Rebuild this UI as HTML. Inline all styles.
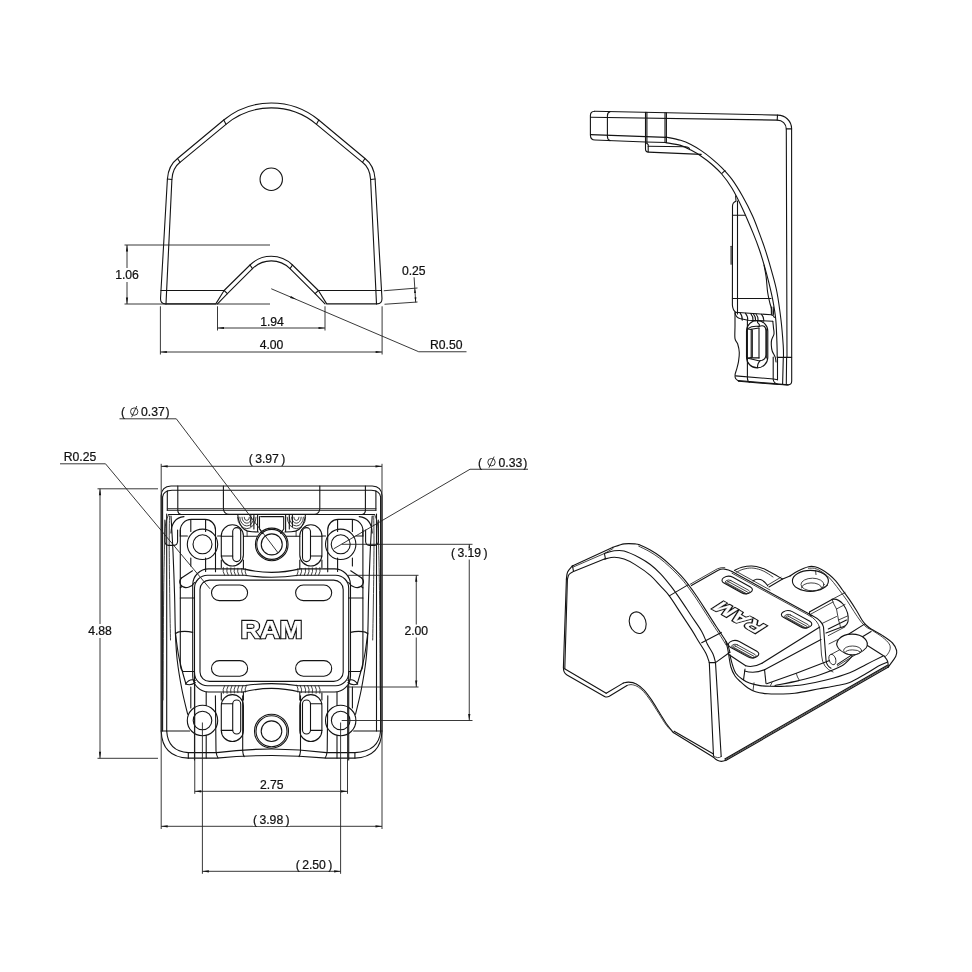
<!DOCTYPE html>
<html><head><meta charset="utf-8"><title>drawing</title>
<style>
html,body{margin:0;padding:0;background:#fff}
svg{display:block;will-change:transform}
.p{fill:none;stroke:#141414;stroke-width:1.1;stroke-linecap:round;stroke-linejoin:round}
.q{fill:none;stroke:#222;stroke-width:.85;stroke-linecap:round;stroke-linejoin:round}
.w{fill:#fff;stroke:#141414;stroke-width:1.1;stroke-linejoin:round}
.d{fill:none;stroke:#222;stroke-width:.9}
.a{fill:#111;stroke:none}
text{font-family:"Liberation Sans",sans-serif;fill:#111;stroke:#111;stroke-width:.22}
</style></head><body>
<svg width="972" height="972" viewBox="0 0 972 972">
<rect width="972" height="972" fill="#fff"/>
<g id="v1">
<path class="p" d="M165.5 303.9Q160.2 303.9 160.55 298L167.4 179Q168.3 165.5 177.5 158.5L223.75 120A74.9 74.9 0 0 1 318.75 120L365 158.5Q374.2 165.5 375.1 179L381.95 298Q382.3 303.9 377 303.9L326.7 303.9L318.4 290.5L292.5 265A30.2 30.2 0 0 0 250 265L224.1 290.5L215.8 303.9Z"/>
<path class="p" d="M166 303.9L171.9 179.5Q172.6 168 180 162.3L226 124.3A70.6 70.6 0 0 1 316.5 124.3L362.5 162.3Q369.9 168 370.6 179.5L376.5 303.9"/>
<path class="p" d="M325 303.9L315.1 293.6L290 268.6A26.5 26.5 0 0 0 252.5 268.6L227.4 293.6L217.5 303.9"/>
<line class="p" x1="160.9" y1="290.5" x2="224.1" y2="290.5"/>
<line class="p" x1="318.4" y1="290.5" x2="381.6" y2="290.5"/>
<line class="p" x1="224.1" y1="290.5" x2="227.4" y2="293.6"/>
<line class="p" x1="318.4" y1="290.5" x2="315.1" y2="293.6"/>
<line class="p" x1="250" y1="265" x2="252.5" y2="268.6"/>
<line class="p" x1="292.5" y1="265" x2="290" y2="268.6"/>
<line class="p" x1="223.75" y1="120" x2="226" y2="124.3"/>
<line class="p" x1="318.75" y1="120" x2="316.5" y2="124.3"/>
<line class="p" x1="177.5" y1="158.5" x2="180" y2="162.3"/>
<line class="p" x1="365" y1="158.5" x2="362.5" y2="162.3"/>
<line class="p" x1="167.4" y1="179" x2="171.9" y2="179.5"/>
<line class="p" x1="375.1" y1="179" x2="370.6" y2="179.5"/>
<circle class="p" cx="271.25" cy="179.25" r="11.2"/>
</g>
<line class="d" x1="124.5" y1="245" x2="270" y2="245"/>
<line class="d" x1="124.5" y1="304" x2="270" y2="304"/>
<line class="d" x1="127" y1="245" x2="127" y2="304"/>
<polygon class="a" points="127.00,245.00 128.10,251.50 125.90,251.50"/>
<polygon class="a" points="127.00,304.00 125.90,297.50 128.10,297.50"/>
<rect x="114" y="268" width="27" height="14" fill="#fff"/>
<text x="127" y="279.3" text-anchor="middle" font-size="12.2">1.06</text>
<line class="d" x1="160.4" y1="306.3" x2="160.4" y2="354.5"/>
<line class="d" x1="382.1" y1="306.3" x2="382.1" y2="354.5"/>
<line class="d" x1="160.4" y1="352" x2="382.1" y2="352"/>
<polygon class="a" points="160.40,352.00 166.90,350.90 166.90,353.10"/>
<polygon class="a" points="382.10,352.00 375.60,353.10 375.60,350.90"/>
<text x="271.5" y="349.3" text-anchor="middle" font-size="12.2">4.00</text>
<line class="d" x1="217.5" y1="306.3" x2="217.5" y2="330.5"/>
<line class="d" x1="325" y1="306.3" x2="325" y2="330.5"/>
<line class="d" x1="217.5" y1="328" x2="325" y2="328"/>
<polygon class="a" points="217.50,328.00 224.00,326.90 224.00,329.10"/>
<polygon class="a" points="325.00,328.00 318.50,329.10 318.50,326.90"/>
<text x="272" y="325.8" text-anchor="middle" font-size="12.2">1.94</text>
<line class="d" x1="271.25" y1="288.75" x2="418.75" y2="351.75"/>
<line class="d" x1="418.75" y1="351.75" x2="466.5" y2="351.75"/>
<polygon class="a" points="296.00,299.30 290.05,297.95 290.91,295.93"/>
<text x="446.3" y="349.3" text-anchor="middle" font-size="12.2">R0.50</text>
<line class="d" x1="383.75" y1="290.75" x2="417.5" y2="288"/>
<line class="d" x1="384.5" y1="304.25" x2="417.5" y2="302"/>
<line class="d" x1="414.1" y1="277.3" x2="415.7" y2="302.4"/>
<polygon class="a" points="414.80,288.20 416.00,292.94 414.10,293.04"/>
<polygon class="a" points="415.70,302.20 414.50,297.46 416.40,297.36"/>
<text x="413.75" y="275.2" text-anchor="middle" font-size="12.2">0.25</text>
<g id="v2">
<path class="p" d="M594.6 111.3L777.8 115.1A13.8 13.8 0 0 1 791.6 128.5L791.7 381Q791.7 385 788 384.9L774 383.6L738.5 380.6"/>
<path class="p" d="M594.6 111.3Q590.4 111.5 590.4 115.6L590.4 135.2Q590.5 139.8 595 140L645.5 142L666.4 142.5"/>
<path class="p" d="M590.6 117.3L777.2 120.1A9 9 0 0 1 786.3 129.2L787 357.4"/>
<line class="p" x1="777.5" y1="115.1" x2="777.2" y2="120.1"/>
<line class="p" x1="786.3" y1="128.9" x2="791.6" y2="128.9"/>
<path class="p" d="M590.6 134.6L666.4 137.4"/>
<path class="p" d="M610 111.6Q607.4 112.4 607.4 116L607.4 136.5Q607.5 140 610 140.6"/>
<line class="p" x1="645.5" y1="112.4" x2="645.5" y2="142"/>
<line class="p" x1="646.9" y1="112.4" x2="646.9" y2="143.5"/>
<line class="p" x1="665" y1="112.8" x2="665" y2="142.5"/>
<line class="p" x1="666.4" y1="112.8" x2="666.4" y2="142.5"/>
<path class="p" d="M645.5 142L645.5 149.5Q645.6 152 648.4 152.1L701.2 154.4"/>
<path class="p" d="M646.9 143.5L648.2 144.6L648.2 151.8"/>
<path class="p" d="M648.2 146.2L685.7 146.7Q688 146.9 689.5 148.3"/>
<path class="p" d="M665.70 137.00C668.18 137.55 676.40 139.07 680.60 140.30C684.80 141.53 687.47 142.68 690.90 144.40C694.33 146.12 697.78 148.28 701.20 150.60C704.62 152.92 707.98 155.47 711.40 158.30C714.82 161.13 718.27 164.08 721.70 167.60C725.13 171.12 728.57 174.70 732.00 179.40C735.43 184.10 738.87 189.72 742.30 195.80C745.73 201.88 749.75 209.63 752.60 215.90C755.45 222.17 757.23 227.57 759.40 233.40C761.57 239.23 763.55 244.57 765.60 250.90C767.65 257.23 769.82 264.55 771.70 271.40C773.58 278.25 775.35 283.90 776.90 292.00C778.45 300.10 779.95 311.17 781.00 320.00C782.05 328.83 782.78 338.77 783.20 345.00C783.62 351.23 783.45 355.33 783.50 357.40"/>
<path class="p" d="M665.70 142.60C668.18 143.07 676.40 144.15 680.60 145.40C684.80 146.65 687.47 148.30 690.90 150.10C694.33 151.90 697.78 153.88 701.20 156.20C704.62 158.52 707.98 161.03 711.40 164.00C714.82 166.97 718.27 169.97 721.70 174.00C725.13 178.03 728.57 182.50 732.00 188.20C735.43 193.90 738.77 200.67 742.30 208.20C745.83 215.73 750.35 226.47 753.20 233.40C756.05 240.33 757.52 244.32 759.40 249.80C761.28 255.28 762.97 260.98 764.50 266.30C766.03 271.62 767.22 276.05 768.60 281.70C769.98 287.35 771.60 293.82 772.80 300.20C774.00 306.58 775.10 312.53 775.80 320.00C776.50 327.47 776.77 338.77 777.00 345.00C777.23 351.23 777.17 355.33 777.20 357.40"/>
<line class="p" x1="725" y1="170.6" x2="721.9" y2="173.4"/>
<path class="p" d="M764.00 265.00C764.35 266.93 765.50 272.10 766.10 276.60C766.70 281.10 767.00 287.72 767.60 292.00C768.20 296.28 769.02 299.38 769.70 302.30C770.38 305.22 771.32 307.38 771.70 309.50C772.08 311.62 771.95 314.08 772.00 315.00"/>
<path class="p" d="M735.6 195.8L736 201.3Q732.6 202.5 732.5 206L732.4 305Q732.6 310 736 312.6"/>
<line class="p" x1="737.5" y1="201" x2="737.5" y2="314"/>
<line class="p" x1="732.5" y1="215.3" x2="745.6" y2="215.3"/>
<line class="p" x1="731.1" y1="246.2" x2="731.1" y2="264.2"/>
<line class="p" x1="732.4" y1="298.5" x2="771" y2="298.5"/>
<line class="p" x1="783.3" y1="357.4" x2="782.6" y2="384.3"/>
<line class="p" x1="777.5" y1="357.4" x2="777.5" y2="379.8"/>
<line class="p" x1="777.5" y1="357.4" x2="791.6" y2="357.4"/>
<line class="p" x1="786.6" y1="357.4" x2="786.3" y2="384.6"/>
<path class="p" d="M735 312.3L771.3 314.7Q773.6 315.2 774.4 317.5"/>
<path class="p" d="M735 312.8Q736 317.5 739.7 318.5L748.1 320.2L772.8 321.2"/>
<path class="p" d="M740 312.93q2.6 3 2.2 7.20"/>
<path class="p" d="M745.5 313.29q2.6 3 2.2 7.09"/>
<path class="p" d="M750.8 313.64q2.6 3 2.2 6.98"/>
<path class="p" d="M753.4 313.81q2.6 3 2.2 6.93"/>
<path class="p" d="M756 313.99q2.6 3 2.2 6.88"/>
<path class="p" d="M761.5 314.35q2.6 3 2.2 6.77"/>
<path class="p" d="M771.3 307L771.4 314.2"/>
<path class="p" d="M773.2 307L773.6 314.4"/>
<path class="p" d="M735.00 313.10C735.00 315.25 735.00 321.75 735.00 326.00C735.00 330.25 734.55 335.60 735.00 338.60C735.45 341.60 736.98 341.68 737.70 344.00C738.42 346.32 739.17 349.55 739.30 352.50C739.43 355.45 738.95 358.88 738.50 361.70C738.05 364.52 737.17 367.28 736.60 369.40C736.03 371.52 735.27 372.88 735.10 374.40C734.93 375.92 734.97 377.35 735.60 378.50C736.23 379.65 738.35 380.83 738.90 381.30"/>
<path class="p" d="M738.9 381.3L775.2 384.3L788 384.9"/>
<path class="p" d="M735.6 375.9L773.6 379L777.5 379.8"/>
<path class="p" d="M747.4 320.2L747.4 378.2Q747.6 381.5 749.7 382.3"/>
<path class="p" d="M772.80 321.20C772.92 322.33 773.30 325.87 773.50 328.00C773.70 330.13 774.32 332.00 774.00 334.00C773.68 336.00 772.05 338.17 771.60 340.00C771.15 341.83 771.20 343.17 771.30 345.00C771.40 346.83 771.55 348.98 772.20 351.00C772.85 353.02 774.57 355.27 775.20 357.10C775.83 358.93 775.87 361.18 776.00 362.00"/>
<path class="p" d="M773.2 357L773.2 379.5Q773.8 383 777.5 384.2"/>
<path class="p" d="M746.5 331.04999999999995A10.649999999999977 10.649999999999977 0 0 1 767.8 331.04999999999995V357.25A10.649999999999977 10.649999999999977 0 0 1 746.5 357.25Z"/>
<path class="p" d="M747.6 329L751.2 329.5M747.6 358L751.2 357.6"/>
<line class="p" x1="766.7" y1="329" x2="766.7" y2="358"/>
<line class="p" x1="751.2" y1="329.2" x2="751.2" y2="357.9"/>
<line class="p" x1="752.3" y1="329.8" x2="752.3" y2="357.3"/>
<line class="p" x1="759" y1="328" x2="759" y2="357.9"/>
<path class="p" d="M751.2 329.2L759 328M751.2 357.9L759 357.9"/>
<path class="p" d="M747.8 328.6Q752 325.6 759 326.4Q762.5 325 764.5 326.5Q766 328 765.9 331L765.9 355Q765.8 359 762 360.3Q760.6 360.6 759.7 361"/>
<path class="p" d="M747.8 358.2Q753 359.2 759.7 361"/>
<path class="p" d="M757.40 320.20C757.43 320.58 757.27 321.73 757.60 322.50C757.93 323.27 759.17 324.15 759.40 324.80C759.63 325.45 759.07 326.13 759.00 326.40"/>
<path class="p" d="M759.70 361.00C759.42 361.50 758.38 362.90 758.00 364.00C757.62 365.10 757.50 367.00 757.40 367.60"/>
</g>
<g id="v3">
<path class="p" d="M171 486H372.2Q381.6 486.4 382 495.5V731Q381 757 355 758.1L326.5 758.1Q272 753 216.7 758.1L188.2 758.1Q162 757 161.2 731V495.5Q161.6 486.4 171 486Z"/>
<path class="p" d="M172 490.3H371.2Q379.8 490.6 380.6 497V731Q379 751.5 355 752.6L326.5 752.6Q272 745.5 216.7 752.6L188.3 752.6Q168 751.5 166.7 731M162.6 497Q163.4 490.6 172 490.3"/>
<line class="p" x1="162.6" y1="497" x2="162.6" y2="731"/>
<path class="p" d="M166.7 514V731"/>
<path class="p" d="M376.5 514V731"/>
<path class="p" d="M161.2 731H189.6"/>
<path class="p" d="M382.0 731H353.6"/>
<path class="p" d="M188.3 752.6V758.1"/>
<path class="p" d="M354.9 752.6V758.1"/>
<path class="p" d="M206.2 752.6V758.1"/>
<path class="p" d="M337.0 752.6V758.1"/>
<path class="p" d="M215.4 695.8L216 751Q216.5 756 218 758"/>
<path class="p" d="M327.8 695.8L327.2 751Q326.7 756 325.2 758"/>
<path class="p" d="M242.7 695.8V751Q243 755 244.2 756.6"/>
<path class="p" d="M300.5 695.8V751Q300.2 755 299.0 756.6"/>
<line class="p" x1="167.3" y1="510.3" x2="375.9" y2="510.3"/>
<line class="p" x1="168.6" y1="514.5" x2="374.6" y2="514.5"/>
<path class="p" d="M167.3 490.8V510.3"/>
<path class="p" d="M375.9 490.8V510.3"/>
<path class="p" d="M177.8 486V511Q178.2 514 181 514.5"/>
<path class="p" d="M365.4 486V511Q365.0 514 362.2 514.5"/>
<path class="p" d="M223.4 486V508.5Q223.6 514 229 514.4H314.2Q319.6 514 319.8 508.5V486"/>
<line class="q" x1="167.3" y1="508.6" x2="375.9" y2="508.6"/>
<line class="p" x1="260.7" y1="516.6" x2="283" y2="516.6"/>
<circle class="p" cx="202.5" cy="544.3" r="15.2"/>
<circle class="p" cx="202.5" cy="544.3" r="9.5"/>
<circle class="p" cx="202.5" cy="720.5" r="15.2"/>
<circle class="p" cx="202.5" cy="720.5" r="9.3"/>
<circle class="p" cx="340.7" cy="544.3" r="15.2"/>
<circle class="p" cx="340.7" cy="544.3" r="9.5"/>
<circle class="p" cx="340.7" cy="720.5" r="15.2"/>
<circle class="p" cx="340.7" cy="720.5" r="9.3"/>
<circle class="p" cx="271.75" cy="544.4" r="16.3"/>
<circle class="p" cx="271.75" cy="544.4" r="15"/>
<circle class="p" cx="271.75" cy="544.4" r="10.5"/>
<circle class="p" cx="271.5" cy="731.2" r="17"/>
<circle class="p" cx="271.5" cy="731.2" r="15.5"/>
<circle class="p" cx="271.5" cy="731.2" r="10.3"/>
<rect class="p" x="200" y="580.1" width="143.2" height="101.29999999999995" rx="9.5"/>
<path class="p" d="M207.5 575.2H244.6Q258 577.3 271.6 577.3T298.6 575.2H335.7A13 13 0 0 1 348.7 588.2V672.7A13 13 0 0 1 335.7 685.7H298.6Q285 683.6 271.6 683.6T244.6 685.7H207.5A13 13 0 0 1 194.5 672.7V588.2A13 13 0 0 1 207.5 575.2Z"/>
<path class="p" d="M209 568.9H243.4Q258 572.4 271.6 572.4T299.8 568.9H334.2A16 16 0 0 1 350.5 585V676A16 16 0 0 1 334.2 692L299.8 692Q285 688.4 271.6 688.4T243.4 692L209 692A16 16 0 0 1 192.7 676V585A16 16 0 0 1 209 568.9Z"/>
<path class="p" d="M219.3 585H239.79999999999998A7.800000000000011 7.800000000000011 0 0 1 239.79999999999998 600.6H219.3A7.800000000000011 7.800000000000011 0 0 1 219.3 585Z"/>
<path class="p" d="M303.40000000000003 585H323.9A7.800000000000011 7.800000000000011 0 0 1 323.9 600.6H303.40000000000003A7.800000000000011 7.800000000000011 0 0 1 303.40000000000003 585Z"/>
<path class="p" d="M219.3 660.6H239.79999999999998A7.800000000000011 7.800000000000011 0 0 1 239.79999999999998 676.2H219.3A7.800000000000011 7.800000000000011 0 0 1 219.3 660.6Z"/>
<path class="p" d="M303.40000000000003 660.6H323.9A7.800000000000011 7.800000000000011 0 0 1 323.9 676.2H303.40000000000003A7.800000000000011 7.800000000000011 0 0 1 303.40000000000003 660.6Z"/>
<path class="p" d="M221.3 535.8499999999999A11.049999999999997 11.049999999999997 0 0 1 243.4 535.8499999999999V554.95A11.049999999999997 11.049999999999997 0 0 1 221.3 554.95Z"/>
<path class="p" d="M232.7 531.6A4.0 4.0 0 0 1 240.7 531.6V557.6A4.0 4.0 0 0 1 232.7 557.6Z"/>
<path class="p" d="M221.3 705.65A11.049999999999997 11.049999999999997 0 0 1 243.4 705.65V730.45A11.049999999999997 11.049999999999997 0 0 1 221.3 730.45Z"/>
<path class="p" d="M232.7 704.0A4.0 4.0 0 0 1 240.7 704.0V730.0A4.0 4.0 0 0 1 232.7 730.0Z"/>
<path class="p" d="M221.3 536.3H232.7M221.3 556H232.7"/>
<path class="p" d="M221.3 703.8H232.7M221.3 730.4H232.7"/>
<path class="p" d="M299.80000000000007 535.8499999999999A11.049999999999983 11.049999999999983 0 0 1 321.90000000000003 535.8499999999999V554.95A11.049999999999983 11.049999999999983 0 0 1 299.80000000000007 554.95Z"/>
<path class="p" d="M302.50000000000006 531.6A4.0 4.0 0 0 1 310.50000000000006 531.6V557.6A4.0 4.0 0 0 1 302.50000000000006 557.6Z"/>
<path class="p" d="M299.80000000000007 705.65A11.049999999999983 11.049999999999983 0 0 1 321.90000000000003 705.65V730.45A11.049999999999983 11.049999999999983 0 0 1 299.80000000000007 730.45Z"/>
<path class="p" d="M302.50000000000006 704.0A4.0 4.0 0 0 1 310.50000000000006 704.0V730.0A4.0 4.0 0 0 1 302.50000000000006 730.0Z"/>
<path class="p" d="M321.90000000000003 536.3H310.50000000000006M321.90000000000003 556H310.50000000000006"/>
<path class="p" d="M321.90000000000003 703.8H310.50000000000006M321.90000000000003 730.4H310.50000000000006"/>
<g font-size="23.1" font-weight="bold" text-anchor="middle"><text x="271.5" y="637.9" textLength="61.6" lengthAdjust="spacingAndGlyphs" style="fill:#111;stroke:#111;stroke-width:2.3;stroke-linejoin:miter">RAM</text><text x="271.5" y="637.9" textLength="61.6" lengthAdjust="spacingAndGlyphs" style="fill:#fff;stroke:#fff;stroke-width:.25">RAM</text></g>
<path class="p" d="M171.00 516.00C171.33 522.00 172.40 538.67 173.00 552.00C173.60 565.33 174.20 582.50 174.60 596.00C175.00 609.50 174.97 622.33 175.40 633.00C175.83 643.67 176.10 650.50 177.20 660.00C178.30 669.50 180.25 680.95 182.00 690.00C183.75 699.05 186.75 710.25 187.70 714.30"/>
<path class="p" d="M175.40 633.00C175.92 636.67 177.32 648.50 178.50 655.00C179.68 661.50 181.25 667.17 182.50 672.00C183.75 676.83 185.42 682.00 186.00 684.00"/>
<path class="q" d="M168.60 514.50C168.08 516.25 166.17 519.92 165.50 525.00C164.83 530.08 164.92 532.50 164.60 545.00C164.28 557.50 163.87 574.17 163.60 600.00C163.33 625.83 163.10 683.33 163.00 700.00"/>
<path class="q" d="M169.50 516.00C169.45 520.83 169.15 531.00 169.20 545.00C169.25 559.00 169.58 584.17 169.80 600.00C170.02 615.83 170.38 633.33 170.50 640.00"/>
<path class="p" d="M180.3 530V665Q180.6 669.5 182.8 671.5H194.5"/>
<path class="p" d="M180.3 598H194.5"/>
<path class="p" d="M175.6 633.5Q178 631.6 180.3 631.6Q187 630.8 192.7 632.4"/>
<path class="p" d="M164.9 520V541.5Q165.2 545.2 168.5 545.4H174Q177.3 545.2 177.6 541.5V530"/>
<path class="p" d="M180.3 536V531A11 11 0 0 1 191.3 519.4H205A10.5 10.5 0 0 1 215.5 530V571.8"/>
<path class="p" d="M190.8 519.6V531.5M205.6 519.6V531.5M205.6 558V571.5M190.8 558V566"/>
<path class="p" d="M180.3 536H187.4M217.6 536H221.3"/>
<path class="p" d="M171 533Q171.5 518 184 516.6"/>
<path class="p" d="M181.5 578Q178.5 581 180.5 584.5Q183.5 589 189 587Q193 585.5 194.5 582.5"/>
<path class="p" d="M181.5 578L192.5 570.8M182 586.5L180.3 587.8"/>
<path class="p" d="M185.5 684Q190 678 195.2 680.5M185.5 684Q191 686 195.3 682.5"/>
<path class="p" d="M190.8 687V708M194.5 672V760M206.2 692V705.5M206.2 735.5V752.6"/>
<path class="q" d="M224.5 575.2Q222.3 571.5 223.3 567.6"/>
<path class="q" d="M224.5 685.7Q222.3 689.4 223.3 693.3"/>
<path class="q" d="M228.2 575.2Q226.0 571.5 227.0 567.6"/>
<path class="q" d="M228.2 685.7Q226.0 689.4 227.0 693.3"/>
<path class="q" d="M232 575.3000000000001Q229.8 571.5 230.8 567.8000000000001"/>
<path class="q" d="M232 685.6Q229.8 689.4 230.8 693.0999999999999"/>
<path class="q" d="M235.5 575.4000000000001Q233.3 571.5 234.3 568.0"/>
<path class="q" d="M235.5 685.5Q233.3 689.4 234.3 692.9"/>
<path class="q" d="M239 575.5Q236.8 571.5 237.8 568.2"/>
<path class="q" d="M239 685.4000000000001Q236.8 689.4 237.8 692.6999999999999"/>
<path class="q" d="M243 575.6Q240.8 571.5 241.8 568.4"/>
<path class="q" d="M243 685.3000000000001Q240.8 689.4 241.8 692.5"/>
<path class="q" d="M246.5 575.8000000000001Q244.3 571.5 245.3 568.8000000000001"/>
<path class="q" d="M246.5 685.1Q244.3 689.4 245.3 692.0999999999999"/>
<path class="p" d="M221.3 560V567.5M243.4 560V569M221.3 700V693M243.4 700V692"/>
<path class="p" d="M372.20 516.00C371.87 522.00 370.80 538.67 370.20 552.00C369.60 565.33 369.00 582.50 368.60 596.00C368.20 609.50 368.23 622.33 367.80 633.00C367.37 643.67 367.10 650.50 366.00 660.00C364.90 669.50 362.95 680.95 361.20 690.00C359.45 699.05 356.45 710.25 355.50 714.30"/>
<path class="p" d="M367.80 633.00C367.28 636.67 365.88 648.50 364.70 655.00C363.52 661.50 361.95 667.17 360.70 672.00C359.45 676.83 357.78 682.00 357.20 684.00"/>
<path class="q" d="M374.60 514.50C375.12 516.25 377.03 519.92 377.70 525.00C378.37 530.08 378.28 532.50 378.60 545.00C378.92 557.50 379.33 574.17 379.60 600.00C379.87 625.83 380.10 683.33 380.20 700.00"/>
<path class="q" d="M373.70 516.00C373.75 520.83 374.05 531.00 374.00 545.00C373.95 559.00 373.62 584.17 373.40 600.00C373.18 615.83 372.82 633.33 372.70 640.00"/>
<path class="p" d="M362.90000000000003 530V665Q362.6 669.5 360.40000000000003 671.5H348.70000000000005"/>
<path class="p" d="M362.90000000000003 598H348.70000000000005"/>
<path class="p" d="M367.6 633.5Q365.20000000000005 631.6 362.90000000000003 631.6Q356.20000000000005 630.8 350.50000000000006 632.4"/>
<path class="p" d="M378.30000000000007 520V541.5Q378.00000000000006 545.2 374.70000000000005 545.4H369.20000000000005Q365.90000000000003 545.2 365.6 541.5V530"/>
<path class="p" d="M362.90000000000003 536V531A11 11 0 0 0 351.90000000000003 519.4H338.20000000000005A10.5 10.5 0 0 0 327.70000000000005 530V571.8"/>
<path class="p" d="M352.40000000000003 519.6V531.5M337.6 519.6V531.5M337.6 558V571.5M352.40000000000003 558V566"/>
<path class="p" d="M362.90000000000003 536H355.80000000000007M325.6 536H321.90000000000003"/>
<path class="p" d="M372.20000000000005 533Q371.70000000000005 518 359.20000000000005 516.6"/>
<path class="p" d="M361.70000000000005 578Q364.70000000000005 581 362.70000000000005 584.5Q359.70000000000005 589 354.20000000000005 587Q350.20000000000005 585.5 348.70000000000005 582.5"/>
<path class="p" d="M361.70000000000005 578L350.70000000000005 570.8M361.20000000000005 586.5L362.90000000000003 587.8"/>
<path class="p" d="M357.70000000000005 684Q353.20000000000005 678 348.00000000000006 680.5M357.70000000000005 684Q352.20000000000005 686 347.90000000000003 682.5"/>
<path class="p" d="M352.40000000000003 687V708M348.70000000000005 672V760M337.00000000000006 692V705.5M337.00000000000006 735.5V752.6"/>
<path class="q" d="M318.70000000000005 575.2Q320.90000000000003 571.5 319.90000000000003 567.6"/>
<path class="q" d="M318.70000000000005 685.7Q320.90000000000003 689.4 319.90000000000003 693.3"/>
<path class="q" d="M315.00000000000006 575.2Q317.20000000000005 571.5 316.20000000000005 567.6"/>
<path class="q" d="M315.00000000000006 685.7Q317.20000000000005 689.4 316.20000000000005 693.3"/>
<path class="q" d="M311.20000000000005 575.3000000000001Q313.40000000000003 571.5 312.40000000000003 567.8000000000001"/>
<path class="q" d="M311.20000000000005 685.6Q313.40000000000003 689.4 312.40000000000003 693.0999999999999"/>
<path class="q" d="M307.70000000000005 575.4000000000001Q309.90000000000003 571.5 308.90000000000003 568.0"/>
<path class="q" d="M307.70000000000005 685.5Q309.90000000000003 689.4 308.90000000000003 692.9"/>
<path class="q" d="M304.20000000000005 575.5Q306.40000000000003 571.5 305.40000000000003 568.2"/>
<path class="q" d="M304.20000000000005 685.4000000000001Q306.40000000000003 689.4 305.40000000000003 692.6999999999999"/>
<path class="q" d="M300.20000000000005 575.6Q302.40000000000003 571.5 301.40000000000003 568.4"/>
<path class="q" d="M300.20000000000005 685.3000000000001Q302.40000000000003 689.4 301.40000000000003 692.5"/>
<path class="q" d="M296.70000000000005 575.8000000000001Q298.90000000000003 571.5 297.90000000000003 568.8000000000001"/>
<path class="q" d="M296.70000000000005 685.1Q298.90000000000003 689.4 297.90000000000003 692.0999999999999"/>
<path class="p" d="M321.90000000000003 560V567.5M299.80000000000007 560V569M321.90000000000003 700V693M299.80000000000007 700V692"/>
<path class="q" d="M244.20000000000002 517.2A2.6 3.25 0 0 0 249.4 517.2"/>
<path class="q" d="M242.0 517.2A4.8 6.00 0 0 0 251.60000000000002 517.2"/>
<path class="q" d="M239.8 517.2A7 8.75 0 0 0 253.8 517.2"/>
<path class="q" d="M237.60000000000002 517.2A9.2 11.50 0 0 0 256.0 517.2"/>
<path class="p" d="M237.8 515Q238.5 524 244 529.2Q247 531.6 252 531.8L258.4 532"/>
<path class="p" d="M250.8 515V526.5M253.9 515V529M257.6 515V531.5M259.5 516.6V529L262.5 533.5"/>
<path class="q" d="M241.5 527L243.4 528.5M247.1 531.4L247.1 536.3"/>
<path class="p" d="M243.4 536.3H257"/>
<path class="q" d="M299.0 517.2A2.6 3.25 0 0 1 293.80000000000007 517.2"/>
<path class="q" d="M301.20000000000005 517.2A4.8 6.00 0 0 1 291.6 517.2"/>
<path class="q" d="M303.40000000000003 517.2A7 8.75 0 0 1 289.40000000000003 517.2"/>
<path class="q" d="M305.6 517.2A9.2 11.50 0 0 1 287.20000000000005 517.2"/>
<path class="p" d="M305.40000000000003 515Q304.70000000000005 524 299.20000000000005 529.2Q296.20000000000005 531.6 291.20000000000005 531.8L284.80000000000007 532"/>
<path class="p" d="M292.40000000000003 515V526.5M289.30000000000007 515V529M285.6 515V531.5M283.70000000000005 516.6V529L280.70000000000005 533.5"/>
<path class="q" d="M301.70000000000005 527L299.80000000000007 528.5M296.1 531.4L296.1 536.3"/>
<path class="p" d="M299.80000000000007 536.3H286.20000000000005"/>
</g>
<line class="d" x1="161.2" y1="463.8" x2="161.2" y2="829"/>
<line class="d" x1="382" y1="463.8" x2="382" y2="829"/>
<line class="d" x1="161.2" y1="466.3" x2="382" y2="466.3"/>
<polygon class="a" points="161.20,466.30 167.70,465.20 167.70,467.40"/>
<polygon class="a" points="382.00,466.30 375.50,467.40 375.50,465.20"/>
<text x="267" y="463.2" text-anchor="middle" font-size="12.2">(&#8201;3.97&#8201;)</text>
<line class="d" x1="161.2" y1="826.3" x2="382" y2="826.3"/>
<polygon class="a" points="161.20,826.30 167.70,825.20 167.70,827.40"/>
<polygon class="a" points="382.00,826.30 375.50,827.40 375.50,825.20"/>
<rect x="253" y="813" width="37" height="13" fill="#fff"/>
<text x="271.3" y="823.6" text-anchor="middle" font-size="12.2">(&#8201;3.98&#8201;)</text>
<line class="d" x1="97.5" y1="488.8" x2="158" y2="488.8"/>
<line class="d" x1="97.5" y1="758.3" x2="158" y2="758.3"/>
<line class="d" x1="100" y1="488.8" x2="100" y2="758.3"/>
<polygon class="a" points="100.00,488.80 101.10,495.30 98.90,495.30"/>
<polygon class="a" points="100.00,758.30 98.90,751.80 101.10,751.80"/>
<rect x="86" y="624" width="28" height="14" fill="#fff"/>
<text x="100" y="635" text-anchor="middle" font-size="12.2">4.88</text>
<line class="d" x1="194.75" y1="686" x2="194.75" y2="793.8"/>
<line class="d" x1="347.5" y1="686" x2="347.5" y2="793.8"/>
<line class="d" x1="194.75" y1="791.3" x2="347.5" y2="791.3"/>
<polygon class="a" points="194.75,791.30 201.25,790.20 201.25,792.40"/>
<polygon class="a" points="347.50,791.30 341.00,792.40 341.00,790.20"/>
<text x="271.75" y="789.3" text-anchor="middle" font-size="12.2">2.75</text>
<line class="d" x1="202.4" y1="722.5" x2="202.4" y2="873.8"/>
<line class="d" x1="340.6" y1="722.5" x2="340.6" y2="873.8"/>
<line class="d" x1="202.4" y1="871.3" x2="340.6" y2="871.3"/>
<polygon class="a" points="202.40,871.30 208.90,870.20 208.90,872.40"/>
<polygon class="a" points="340.60,871.30 334.10,872.40 334.10,870.20"/>
<text x="314" y="869.3" text-anchor="middle" font-size="12.2">(&#8201;2.50&#8201;)</text>
<line class="d" x1="348" y1="575.3" x2="418.5" y2="575.3"/>
<line class="d" x1="348" y1="687" x2="418.5" y2="687"/>
<line class="d" x1="416.25" y1="575.3" x2="416.25" y2="687"/>
<polygon class="a" points="416.25,575.30 417.35,581.80 415.15,581.80"/>
<polygon class="a" points="416.25,687.00 415.15,680.50 417.35,680.50"/>
<rect x="403" y="624.5" width="27" height="13" fill="#fff"/>
<text x="416.25" y="635" text-anchor="middle" font-size="12.2">2.00</text>
<line class="d" x1="341.7" y1="544.3" x2="472.5" y2="544.3"/>
<line class="d" x1="341.7" y1="720.5" x2="472.5" y2="720.5"/>
<line class="d" x1="469.25" y1="544.3" x2="469.25" y2="720.5"/>
<polygon class="a" points="469.25,544.30 470.35,550.80 468.15,550.80"/>
<polygon class="a" points="469.25,720.50 468.15,714.00 470.35,714.00"/>
<rect x="451" y="548.5" width="37" height="11" fill="#fff"/>
<text x="469.25" y="557" text-anchor="middle" font-size="12.2">(&#8201;3.19&#8201;)</text>
<line class="d" x1="119.5" y1="418.8" x2="176.3" y2="418.8"/>
<line class="d" x1="176.3" y1="418.8" x2="277.8" y2="552.5"/>
<text x="121" y="416" text-anchor="start" font-size="12.2">(</text>
<text x="169.5" y="416" text-anchor="end" font-size="12.2">)</text>
<text x="164.8" y="416" text-anchor="end" font-size="12.2">0.37</text>
<circle class="d" cx="134.2" cy="411.6" r="3.7"/>
<line class="d" x1="131.6" y1="417.2" x2="136.8" y2="406"/>
<line class="d" x1="60" y1="463.8" x2="105.5" y2="463.8"/>
<line class="d" x1="105.5" y1="463.8" x2="210" y2="588.8"/>
<text x="80" y="461" text-anchor="middle" font-size="12.2">R0.25</text>
<line class="d" x1="333.75" y1="548.75" x2="470" y2="469.25"/>
<line class="d" x1="470" y1="469.25" x2="528" y2="469.25"/>
<text x="478" y="466.6" text-anchor="start" font-size="12.2">(</text>
<text x="527.3" y="466.6" text-anchor="end" font-size="12.2">)</text>
<text x="522.3" y="466.6" text-anchor="end" font-size="12.2">0.33</text>
<circle class="d" cx="491.5" cy="462.2" r="3.7"/>
<line class="d" x1="488.9" y1="467.8" x2="494.1" y2="456.6"/>
<g id="v4">
<path class="p" d="M563.40 667.00L566.40 579.00"/>
<path class="p" d="M564.80 668.80L567.40 579.50"/>
<path class="p" d="M566.40 579.00C566.60 577.83 566.62 574.18 567.60 572.00C568.58 569.82 571.52 566.92 572.30 565.90"/>
<path class="p" d="M567.40 579.50C567.67 578.67 567.98 575.85 569.00 574.50C570.02 573.15 572.75 571.92 573.50 571.40"/>
<path class="p" d="M572.30 565.90L613.00 547.30"/>
<path class="q" d="M572.80 567.20L604.40 553.50"/>
<path class="q" d="M604.40 553.50L613.00 548.60"/>
<path class="p" d="M573.50 571.40L604.40 559.10"/>
<path class="p" d="M572.50 566.00L573.50 571.40"/>
<path class="p" d="M604.40 553.50L605.50 559.00"/>
<path class="p" d="M613.00 547.30C614.85 546.73 620.40 544.47 624.10 543.90C627.80 543.33 632.55 543.72 635.20 543.90C637.85 544.08 637.48 543.97 640.00 545.00C642.52 546.03 646.87 548.13 650.30 550.10C653.73 552.07 657.17 554.22 660.60 556.80C664.03 559.38 667.47 562.42 670.90 565.60C674.33 568.78 678.28 572.73 681.20 575.90C684.12 579.07 685.67 581.00 688.40 584.60C691.13 588.20 694.52 592.95 697.60 597.50C700.68 602.05 703.82 607.10 706.90 611.90C709.98 616.70 713.53 622.37 716.10 626.30C718.67 630.23 720.42 632.58 722.30 635.50C724.18 638.42 726.13 641.00 727.40 643.80C728.67 646.60 729.48 650.88 729.90 652.30"/>
<path class="q" d="M638.70 546.20C640.42 547.05 645.57 549.33 649.00 551.30C652.43 553.27 655.87 555.42 659.30 558.00C662.73 560.58 666.17 563.62 669.60 566.80C673.03 569.98 676.98 573.93 679.90 577.10C682.82 580.27 684.37 582.20 687.10 585.80C689.83 589.40 693.22 594.15 696.30 598.70C699.38 603.25 702.52 608.30 705.60 613.10C708.68 617.90 712.23 623.57 714.80 627.50C717.37 631.43 719.12 633.78 721.00 636.70C722.88 639.62 725.25 643.62 726.10 645.00"/>
<path class="p" d="M604.40 553.50C605.83 553.08 609.72 551.42 613.00 551.00C616.28 550.58 619.60 549.85 624.10 551.00C628.60 552.15 635.63 555.65 640.00 557.90C644.37 560.15 646.87 561.85 650.30 564.50C653.73 567.15 657.17 570.18 660.60 573.80C664.03 577.42 667.47 581.73 670.90 586.20C674.33 590.67 677.78 595.63 681.20 600.60C684.62 605.57 687.98 610.87 691.40 616.00C694.82 621.13 699.05 626.73 701.70 631.40C704.35 636.07 705.42 640.23 707.30 644.00C709.18 647.77 711.63 650.90 713.00 654.00C714.37 657.10 715.08 661.17 715.50 662.60"/>
<path class="p" d="M604.40 559.10C606.05 558.78 611.02 557.20 614.30 557.20C617.58 557.20 620.62 557.87 624.10 559.10C627.58 560.33 630.83 561.90 635.20 564.60C639.57 567.30 646.07 571.70 650.30 575.30C654.53 578.90 657.43 582.77 660.60 586.20C663.77 589.63 665.87 591.28 669.30 595.90C672.73 600.52 677.52 608.32 681.20 613.90C684.88 619.48 688.43 624.72 691.40 629.40C694.37 634.08 696.57 637.98 699.00 642.00C701.43 646.02 704.28 650.07 706.00 653.50C707.72 656.93 708.75 661.08 709.30 662.60"/>
<path class="p" d="M669.30 595.90L688.40 584.60"/>
<path class="p" d="M701.70 642.70L721.30 632.40"/>
<path class="p" d="M709.30 662.60L715.50 662.60L729.90 652.30"/>
<path class="p" d="M709.30 662.60L713.50 755.70"/>
<path class="p" d="M715.50 662.60L721.20 756.50"/>
<path class="p" d="M563.4 667Q563.2 672.8 567 675L604.5 696.4"/>
<path class="p" d="M564.60 668.80L606.20 693.20"/>
<path class="p" d="M604.5 696.4Q606.8 697.6 609.3 696.3L627 685.5"/>
<path class="p" d="M606.20 693.20L623.20 683.10"/>
<path class="p" d="M623.20 683.10C624.10 682.93 626.42 681.97 628.60 682.10C630.78 682.23 633.73 682.57 636.30 683.90C638.87 685.23 641.43 687.40 644.00 690.10C646.57 692.80 649.13 696.37 651.70 700.10C654.27 703.83 656.82 708.38 659.40 712.50C661.98 716.62 664.88 721.47 667.20 724.80C669.52 728.13 672.28 731.22 673.30 732.50"/>
<path class="q" d="M627.00 685.50C627.67 685.35 629.33 684.47 631.00 684.60C632.67 684.73 634.92 685.15 637.00 686.30C639.08 687.45 641.25 689.12 643.50 691.50C645.75 693.88 648.00 697.02 650.50 700.60C653.00 704.18 655.85 708.88 658.50 713.00C661.15 717.12 663.93 722.05 666.40 725.30C668.87 728.55 672.15 731.30 673.30 732.50"/>
<path class="p" d="M673.30 732.50L713.50 757.20"/>
<path class="p" d="M674.10 731.20L713.50 754.10"/>
<path class="p" d="M713.5 757.2Q719 763.5 725.8 760.3"/>
<path class="q" d="M713.5 755.7Q718 759.5 721.2 756.5"/>
<path class="p" d="M725.80 760.60L888.40 666.90"/>
<path class="q" d="M725.30 759.70L887.90 666.00"/>
<path class="p" d="M724.80 758.90L887.40 665.20"/>
<ellipse class="p" cx="637.7" cy="622.7" rx="8.2" ry="11" transform="rotate(-18 637.7 622.7)"/>
<path class="p" d="M691.4 585.6L718.2 570.2Q721.5 568.6 724.6 569.1Q728.5 569.6 732 571.6"/>
<path class="q" d="M690.3 584.2L717.4 568.8Q721 567.2 724.8 567.6"/>
<path class="p" d="M732.00 571.60L812.00 615.50"/>
<path class="q" d="M732.00 573.20L808.00 614.80"/>
<path class="p" d="M734.40 570.40C735.65 569.88 739.02 568.03 741.90 567.30C744.78 566.57 748.42 565.90 751.70 566.00C754.98 566.10 758.72 566.97 761.60 567.90C764.48 568.83 765.50 569.75 769.00 571.60C772.50 573.45 780.33 577.77 782.60 579.00"/>
<path class="q" d="M736.50 572.20C737.58 571.72 740.47 570.00 743.00 569.30C745.53 568.60 748.78 567.92 751.70 568.00C754.62 568.08 757.95 568.97 760.50 569.80C763.05 570.63 764.92 571.80 767.00 573.00C769.08 574.20 772.00 576.33 773.00 577.00"/>
<path class="p" d="M769.00 587.00L782.60 579.00L790.00 576.00"/>
<path class="q" d="M767.50 585.20L781.00 577.20"/>
<path class="p" d="M753.00 580.90C753.58 580.63 755.27 579.52 756.50 579.30C757.73 579.08 759.07 579.15 760.40 579.60C761.73 580.05 763.27 580.97 764.50 582.00C765.73 583.03 767.25 585.17 767.80 585.80"/>
<path class="q" d="M734.40 570.40L770.00 590.00"/>
<path class="p" d="M812 615.5Q822 620.5 823.5 627L826 660Q826.6 666 831 668.2"/>
<path class="q" d="M808 614.8Q818.5 620 819.8 629L821.5 655Q822.5 668.5 833 672"/>
<path class="p" d="M819.80 627.00L762.00 663.20"/>
<path class="p" d="M821.00 639.50L765.00 669.50"/>
<path class="p" d="M762 663.2Q753 668 745.7 665.8"/>
<path class="p" d="M765 669.5Q755 674 744.5 671"/>
<path class="p" d="M725.80 641.40C726.08 642.50 727.07 646.10 727.50 648.00C727.93 649.90 728.25 652.00 728.40 652.80"/>
<path class="p" vector-effect="non-scaling-stroke" transform="translate(0 0) matrix(0.877,0.481,-0.843,0.538,737.2,585)" d="M-10.0 -5.3H10.0A5.3 5.3 0 0 1 10.0 5.3H-10.0A5.3 5.3 0 0 1 -10.0 -5.3Z"/>
<path class="q" vector-effect="non-scaling-stroke" transform="translate(0.3 1.9) matrix(0.877,0.481,-0.843,0.538,737.2,585)" d="M-10.200000000000001 -2.6999999999999997H10.200000000000001A2.6999999999999997 2.6999999999999997 0 0 1 10.200000000000001 2.6999999999999997H-10.200000000000001A2.6999999999999997 2.6999999999999997 0 0 1 -10.200000000000001 -2.6999999999999997Z"/>
<path class="q" vector-effect="non-scaling-stroke" transform="translate(0.2 2.6) matrix(0.877,0.481,-0.843,0.538,737.2,585)" d="M-10.8 -1.0999999999999996H10.8A1.0999999999999996 1.0999999999999996 0 0 1 10.8 1.0999999999999996H-10.8A1.0999999999999996 1.0999999999999996 0 0 1 -10.8 -1.0999999999999996Z"/>
<path class="p" vector-effect="non-scaling-stroke" transform="translate(0 0) matrix(0.877,0.481,-0.843,0.538,796.6,619.3)" d="M-10.0 -5.3H10.0A5.3 5.3 0 0 1 10.0 5.3H-10.0A5.3 5.3 0 0 1 -10.0 -5.3Z"/>
<path class="q" vector-effect="non-scaling-stroke" transform="translate(0.3 1.9) matrix(0.877,0.481,-0.843,0.538,796.6,619.3)" d="M-10.200000000000001 -2.6999999999999997H10.200000000000001A2.6999999999999997 2.6999999999999997 0 0 1 10.200000000000001 2.6999999999999997H-10.200000000000001A2.6999999999999997 2.6999999999999997 0 0 1 -10.200000000000001 -2.6999999999999997Z"/>
<path class="q" vector-effect="non-scaling-stroke" transform="translate(0.2 2.6) matrix(0.877,0.481,-0.843,0.538,796.6,619.3)" d="M-10.8 -1.0999999999999996H10.8A1.0999999999999996 1.0999999999999996 0 0 1 10.8 1.0999999999999996H-10.8A1.0999999999999996 1.0999999999999996 0 0 1 -10.8 -1.0999999999999996Z"/>
<path class="p" vector-effect="non-scaling-stroke" transform="translate(0 0) matrix(0.877,0.481,-0.843,0.538,743.6,649.2)" d="M-10.0 -5.3H10.0A5.3 5.3 0 0 1 10.0 5.3H-10.0A5.3 5.3 0 0 1 -10.0 -5.3Z"/>
<path class="q" vector-effect="non-scaling-stroke" transform="translate(0.3 1.9) matrix(0.877,0.481,-0.843,0.538,743.6,649.2)" d="M-10.200000000000001 -2.6999999999999997H10.200000000000001A2.6999999999999997 2.6999999999999997 0 0 1 10.200000000000001 2.6999999999999997H-10.200000000000001A2.6999999999999997 2.6999999999999997 0 0 1 -10.200000000000001 -2.6999999999999997Z"/>
<path class="q" vector-effect="non-scaling-stroke" transform="translate(0.2 2.6) matrix(0.877,0.481,-0.843,0.538,743.6,649.2)" d="M-10.8 -1.0999999999999996H10.8A1.0999999999999996 1.0999999999999996 0 0 1 10.8 1.0999999999999996H-10.8A1.0999999999999996 1.0999999999999996 0 0 1 -10.8 -1.0999999999999996Z"/>
<g transform="matrix(-1.02,-0.572,0.843,-0.538,767.8,626.5)" font-size="19.6" font-weight="bold"><text x="0" y="0" style="fill:#111;stroke:#111;stroke-width:2.5;stroke-linejoin:miter">RAM</text><text x="0" y="0" style="fill:#fff;stroke:#fff;stroke-width:.2">RAM</text></g>
<path class="p" d="M728.40 652.80C728.82 655.17 729.80 663.13 730.90 667.00C732.00 670.87 733.37 673.52 735.00 676.00C736.63 678.48 738.53 679.90 740.70 681.90C742.87 683.90 745.52 686.37 748.00 688.00C750.48 689.63 752.27 690.73 755.60 691.70C758.93 692.67 763.90 693.42 768.00 693.80C772.10 694.18 775.75 694.08 780.20 694.00C784.65 693.92 788.17 694.17 794.70 693.30C801.23 692.43 812.35 690.10 819.40 688.80C826.45 687.50 831.95 686.53 837.00 685.50C842.05 684.47 844.83 684.60 849.70 682.60C854.57 680.60 861.40 676.25 866.20 673.50C871.00 670.75 874.93 668.02 878.50 666.10C882.07 664.18 886.08 662.68 887.60 662.00"/>
<path class="p" d="M729.80 654.50C730.25 656.25 731.50 661.88 732.50 665.00C733.50 668.12 734.22 670.87 735.80 673.20C737.38 675.53 739.73 677.35 742.00 679.00C744.27 680.65 746.40 682.00 749.40 683.10C752.40 684.20 756.57 685.07 760.00 685.60C763.43 686.13 765.83 686.20 770.00 686.30C774.17 686.40 779.50 686.47 785.00 686.20C790.50 685.93 796.17 685.73 803.00 684.70C809.83 683.67 818.22 682.00 826.00 680.00C833.78 678.00 843.00 675.30 849.70 672.70C856.40 670.10 860.72 667.15 866.20 664.40C871.68 661.65 879.87 657.57 882.60 656.20"/>
<path class="p" d="M775.00 685.50C778.97 684.68 791.40 682.35 798.80 680.60C806.20 678.85 812.28 677.42 819.40 675.00C826.52 672.58 836.03 669.23 841.50 666.10C846.97 662.97 850.42 657.85 852.20 656.20"/>
<path class="p" d="M745.00 669.00L743.50 679.80"/>
<path class="p" d="M764.50 669.50L766.00 683.50"/>
<path class="p" d="M766.70 683.70L796.30 673.20L829.50 660.50"/>
<path class="q" d="M772.00 682.50L770.50 685.50"/>
<path class="q" d="M753.00 690.60L754.00 682.80"/>
<path class="q" d="M796.30 673.20C796.50 673.83 796.97 675.80 797.50 677.00C798.03 678.20 799.17 679.83 799.50 680.40"/>
<path class="p" d="M729.50 655.00L745.70 665.80"/>
<path class="p" d="M790.00 576.00C791.33 575.17 794.92 572.55 798.00 571.00C801.08 569.45 805.67 567.40 808.50 566.70C811.33 566.00 812.75 566.28 815.00 566.80C817.25 567.32 819.67 568.52 822.00 569.80C824.33 571.08 826.72 572.65 829.00 574.50C831.28 576.35 833.45 578.32 835.70 580.90C837.95 583.48 840.23 586.92 842.50 590.00C844.77 593.08 846.97 595.98 849.30 599.40C851.63 602.82 854.38 607.07 856.50 610.50C858.62 613.93 860.42 617.58 862.00 620.00C863.58 622.42 864.48 623.50 866.00 625.00C867.52 626.50 868.33 627.23 871.10 629.00C873.87 630.77 879.03 633.27 882.60 635.60C886.17 637.93 890.17 640.52 892.50 643.00C894.83 645.48 896.05 648.30 896.60 650.50C897.15 652.70 896.77 654.02 895.80 656.20C894.83 658.38 892.03 661.82 890.80 663.60C889.57 665.38 888.80 666.35 888.40 666.90"/>
<path class="q" d="M808.50 568.30C809.50 568.30 812.50 567.85 814.50 568.30C816.50 568.75 818.33 569.72 820.50 571.00C822.67 572.28 825.33 574.08 827.50 576.00C829.67 577.92 831.42 580.00 833.50 582.50C835.58 585.00 837.75 588.00 840.00 591.00C842.25 594.00 844.67 597.08 847.00 600.50C849.33 603.92 851.75 608.08 854.00 611.50C856.25 614.92 858.50 618.45 860.50 621.00C862.50 623.55 863.97 625.18 866.00 626.80C868.03 628.42 869.93 628.95 872.70 630.70C875.47 632.45 879.85 635.10 882.60 637.30C885.35 639.50 887.97 641.85 889.20 643.90C890.43 645.95 890.42 647.68 890.00 649.60C889.58 651.52 887.65 654.23 886.70 655.40C885.75 656.57 884.70 656.40 884.30 656.60"/>
<path class="p" d="M884.30 656.20C884.83 657.00 886.82 659.22 887.50 661.00C888.18 662.78 888.25 665.92 888.40 666.90"/>
<path class="p" d="M809.8 611.7L832 599.4"/>
<path class="q" d="M811 614L833 602"/>
<path class="p" d="M809.8 611.7Q808.5 613.5 811.5 616"/>
<path class="p" d="M832 599.4Q837.5 598 843 604Q849.5 613 848 621.5Q846.5 627 840.5 627.5"/>
<path class="q" d="M832 599.4Q833.5 604 836.5 609L838.5 620Q840.5 626 840.5 627.5"/>
<path class="q" d="M836.50 609.00L845.00 604.50"/>
<path class="q" d="M838.50 620.00L847.50 616.00"/>
<path class="p" d="M826.00 633.00L840.50 627.50"/>
<path class="q" d="M822.00 623.50L836.50 616.50"/>
<path class="q" d="M832.00 599.40L845.00 592.60"/>
<path class="p" d="M828.30 629.00L846.50 620.00"/>
<path class="q" d="M828.30 635.60L844.80 627.00"/>
<path class="q" d="M829.00 643.90L837.50 639.70"/>
<path class="q" d="M830.80 654.60L841.50 648.80"/>
<path class="p" d="M848.90 634.00L864.50 624.10"/>
<path class="p" d="M859.60 638.50L871.10 631.50"/>
<path class="p" d="M867.40 645.50L884.30 656.20"/>
<ellipse class="q" cx="832.4" cy="659.5" rx="3.3" ry="5.4" transform="rotate(-18 832.4 659.5)"/>
<path class="p" d="M837.30 664.40L852.20 654.60"/>
<path class="q" d="M837.30 666.00L856.30 654.20"/>
<ellipse class="w" cx="810.4" cy="580.9" rx="18" ry="10.5" transform="rotate(0 810.4 580.9)"/>
<ellipse class="q" cx="812.5" cy="584.5" rx="11.5" ry="6.3" transform="rotate(0 812.5 584.5)"/>
<path class="q" d="M801.5 588A9.5 4.6 0 0 1 821.5 587.5"/>
<path class="q" d="M815.50 570.30L816.00 574.60"/>
<path class="q" d="M822.00 588.00L827.50 585.50"/>
<path class="w" d="M838.5 648.5A15.2 9.9 0 1 1 866 648Q860 654.5 852.4 655Q844 654.5 838.5 648.5Z"/>
<ellipse class="q" cx="852.6" cy="650.5" rx="9" ry="4.5" transform="rotate(0 852.6 650.5)"/>
<path class="q" d="M845 652.3A8 3.2 0 0 1 860.3 652"/>
</g>
</svg></body></html>
